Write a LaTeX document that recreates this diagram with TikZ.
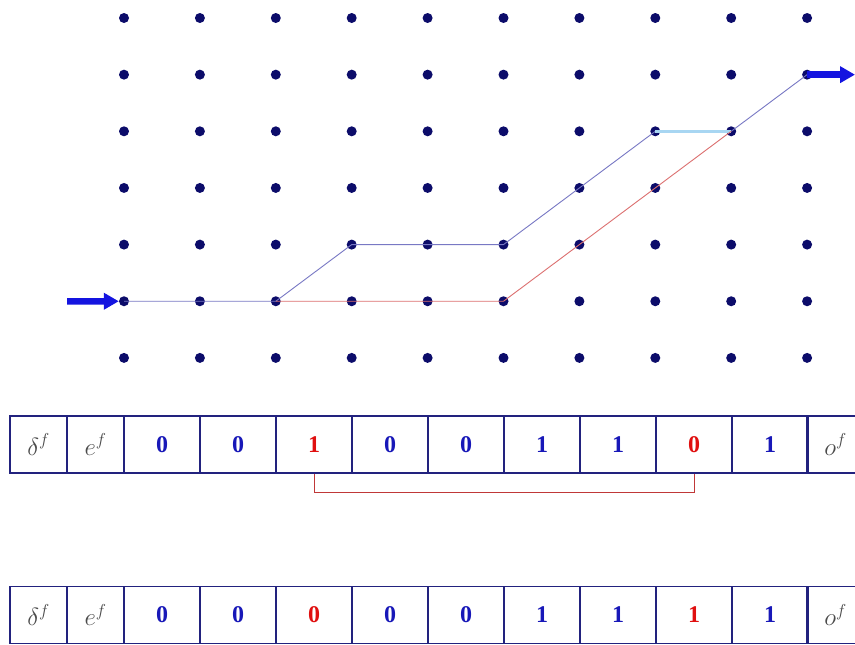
\documentclass[tikz,border=0pt]{standalone}
\usepackage{fontspec}
\setmainfont{Liberation Serif}
\usetikzlibrary{arrows.meta}
\definecolor{dotc}{HTML}{0C0C6A}
\definecolor{pathblue}{HTML}{7878C4}
\definecolor{pathred}{HTML}{DC7070}
\definecolor{pathlight}{HTML}{A8D6F2}
\definecolor{arrowblue}{HTML}{1414E0}
\definecolor{tabc}{HTML}{22227E}
\definecolor{numblue}{HTML}{1818B8}
\definecolor{numred}{HTML}{E01010}
\definecolor{labgray}{HTML}{4A4A4A}
\definecolor{brkred}{HTML}{C03838}
\begin{document}
\begin{tikzpicture}[x=1pt,y=-1pt,
  dot/.style={circle,fill=dotc,inner sep=0pt,minimum size=10pt},
  bluepath/.style={draw=pathblue,line width=0.9pt},
  redpath/.style={draw=pathred,line width=0.9pt},
  lightpath/.style={draw=pathlight,line width=2.6pt},
  bigarrow/.style={draw=arrowblue,line width=6.5pt,-{Triangle[length=15pt,width=16pt]}},
  cell/.style={draw=tabc,line width=1.3pt,minimum height=57pt,inner sep=0pt,anchor=center,
    font=\fontsize{24}{26}\selectfont},
  narrow/.style={cell,minimum width=57pt,text=labgray},
  wide/.style={cell,minimum width=76pt},
  brk/.style={draw=brkred,line width=1pt}]
\useasboundingbox (0,0) rectangle (855,645);
\clip (0,0) rectangle (855,645);
\fill[white] (0,0) rectangle (855,645);
% grid of dots
\foreach \i in {0,...,9}{
  \foreach \j in {0,...,6}{
    \node[dot] (d\i\j) at ({124+75.9*\i},{18+56.65*\j}) {};
  }
}
% paths
\draw[bluepath] (d05.center) -- (d25.center) -- (d34.center) -- (d54.center) -- (d72.center);
\draw[lightpath] (d72.center) -- (d82.center);
\draw[bluepath] (d82.center) -- (d91.center);
\draw[redpath] (d25.center) -- (d55.center) -- (d82.center);
% arrows
\coordinate (ain) at (67,301.25);
\coordinate (aout) at (855,74.65);
\draw[bigarrow] (ain) -- (d05.west);
\draw[bigarrow] (d91.center) -- (aout);
% tables
\foreach \r/\yc/\vals in {t/444.5/{0/numblue,0/numblue,1/numred,0/numblue,0/numblue,1/numblue,1/numblue,0/numred,1/numblue},
                         b/615/{0/numblue,0/numblue,0/numred,0/numblue,0/numblue,1/numblue,1/numblue,1/numred,1/numblue}}{
  \node[narrow] (\r1) at (38.5,\yc) {$\delta^f$};
  \node[narrow] (\r2) at (95.5,\yc) {$e^f$};
  \foreach \v/\c [count=\k from 3] in \vals {
    \node[wide,text=\c] (\r\k) at ({162+76*(\k-3)},\yc) {\textbf{\v}};
  }
  \node[narrow] (\r12) at (835.5,\yc) {$o^f$};
}
% bracket
\draw[brk] (t5.south) -- ++(0,19) -| (t10.south);
\end{tikzpicture}
\end{document}
